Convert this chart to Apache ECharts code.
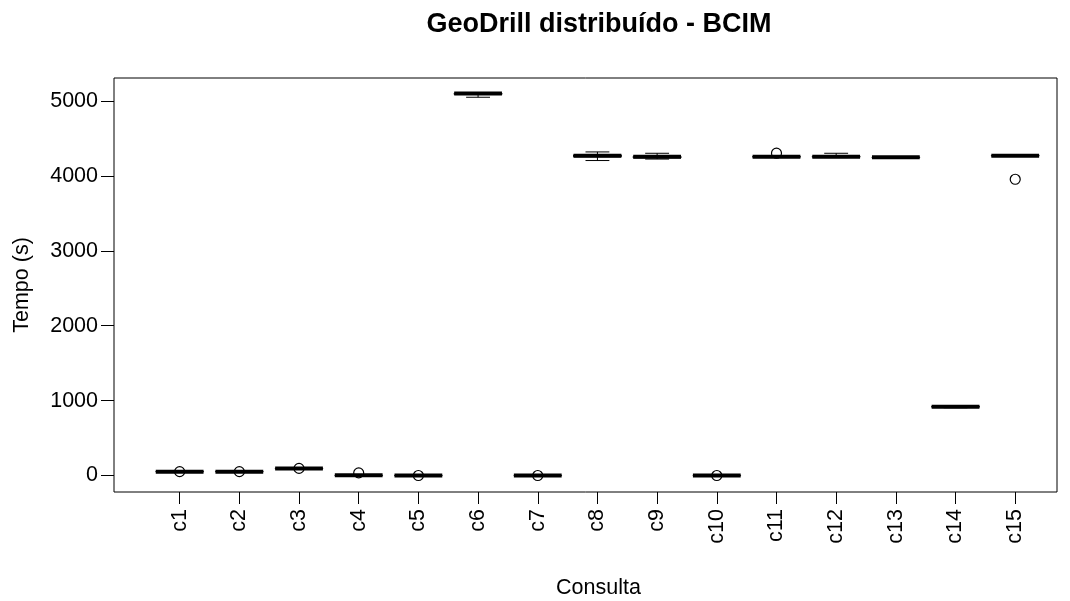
<!DOCTYPE html>
<html>
<head>
<meta charset="utf-8">
<title>GeoDrill distribuído - BCIM</title>
<script src="https://cdn.jsdelivr.net/npm/echarts@6/dist/echarts.min.js"></script>
<style>
  html, body { margin: 0; padding: 0; background: #fff; }
  #chart { width: 1070px; height: 601px; }
</style>
</head>
<body>
<div id="chart"></div>
<script>
// categorias (consultas)
const categories = ['c1', 'c2', 'c3', 'c4', 'c5', 'c6', 'c7', 'c8', 'c9', 'c10', 'c11', 'c12', 'c13', 'c14', 'c15']

// estatísticas de cada boxplot (s)
const mins    = [45, 45, 85, -5, -5, 5050, -4, 4205, 4225, -4, 4245, 4245, 4240, 905, 4260]
const q1s     = [50, 50, 90, 0, -2, 5088, -1, 4255, 4240, -1, 4250, 4250, 4245, 912, 4265]
const medians = [52, 52, 93, 2, 0, 5100, 1, 4270, 4256, 1, 4256, 4256, 4248, 918, 4270]
const q3s     = [55, 55, 96, 4, 2, 5105, 2, 4280, 4262, 2, 4260, 4262, 4252, 925, 4273]
const maxs    = [58, 58, 100, 8, 5, 5110, 5, 4320, 4302, 4, 4268, 4302, 4256, 932, 4277]

// outliers: [indice da consulta (1..15), valor]
const outliers = [[1, 52], [2, 52], [3, 95], [4, 35], [5, 0], [7, 0], [10, 0], [11, 4303], [15, 3955]]

const yTicks = [0, 1000, 2000, 3000, 4000, 5000]
const xTicks = categories.map((c, i) => i + 1)

const boxData = categories.map((c, i) => [i + 1, mins[i], q1s[i], medians[i], q3s[i], maxs[i]])

const FONT = 'Liberation Sans, Arial, sans-serif'

const renderBox = (params, api) => {
  const x = api.value(0)
  const pt = (dx, v) => api.coord([x + dx, v])
  const vMin = api.value(1), vQ1 = api.value(2), vMed = api.value(3), vQ3 = api.value(4), vMax = api.value(5)
  const line = (a, b, style) => ({
    type: 'line',
    shape: { x1: a[0], y1: a[1], x2: b[0], y2: b[1] },
    style: Object.assign({ stroke: '#000', lineWidth: 1, fill: null }, style)
  })
  const tl = pt(-0.4, vQ3)
  const br = pt(0.4, vQ1)
  return {
    type: 'group',
    children: [
      line(pt(0, vQ3), pt(0, vMax), { lineDash: [4, 3] }),
      line(pt(0, vQ1), pt(0, vMin), { lineDash: [4, 3] }),
      line(pt(-0.2, vMax), pt(0.2, vMax), {}),
      line(pt(-0.2, vMin), pt(0.2, vMin), {}),
      {
        type: 'rect',
        shape: { x: tl[0], y: tl[1], width: br[0] - tl[0], height: br[1] - tl[1] },
        style: { stroke: '#000', lineWidth: 1, fill: null }
      },
      line(pt(-0.4, vMed), pt(0.4, vMed), { lineWidth: 4 })
    ]
  }
}

const chart = echarts.init(document.getElementById('chart'))

const option = {
  animation: false,
  backgroundColor: '#fff',
  textStyle: { fontFamily: FONT },
  title: {
    text: 'GeoDrill distribuído - BCIM',
    left: 594,
    top: 6,
    textAlign: 'center',
    textStyle: { fontSize: 27, fontWeight: 'bold', color: '#000', fontFamily: FONT }
  },
  grid: {
    left: 114, right: 13, top: 78, bottom: 109,
    outerBoundsMode: 'none',
    containLabel: false,
    show: true, borderColor: '#000', borderWidth: 1, backgroundColor: 'transparent'
  },
  xAxis: {
    type: 'value',
    min: -0.1,
    max: 15.7,
    name: 'Consulta',
    nameLocation: 'middle',
    nameGap: 85,
    nameTextStyle: { fontSize: 21.5, color: '#000', padding: [0, 0, 0, 26] },
    axisLine: { show: false, onZero: false },
    splitLine: { show: false },
    axisTick: { show: true, inside: false, length: 12, lineStyle: { color: '#000' }, customValues: xTicks },
    axisLabel: {
      show: true, rotate: 90, margin: 17, fontSize: 21.5, color: '#000',
      customValues: xTicks,
      formatter: v => categories[v - 1]
    }
  },
  yAxis: {
    type: 'value',
    min: -220,
    max: 5307,
    name: 'Tempo (s)',
    nameLocation: 'middle',
    nameGap: 81,
    nameRotate: 90,
    nameTextStyle: { fontSize: 21.5, color: '#000' },
    axisLine: { show: false, onZero: false },
    splitLine: { show: false },
    axisTick: { show: true, inside: false, length: 13, lineStyle: { color: '#000' }, customValues: yTicks },
    axisLabel: { show: true, margin: 16, fontSize: 21.5, color: '#000', customValues: yTicks, formatter: v => String(v) }
  },
  series: [
    {
      type: 'custom',
      renderItem: renderBox,
      data: boxData,
      encode: { x: 0, y: [1, 2, 3, 4, 5] },
      clip: true
    },
    {
      type: 'scatter',
      data: outliers,
      symbol: 'circle',
      symbolSize: 10,
      itemStyle: { color: 'rgba(0,0,0,0)', borderColor: '#000', borderWidth: 1.2, opacity: 1 },
      emphasis: { disabled: true },
      z: 3
    }
  ]
}

chart.setOption(option)
</script>
</body>
</html>
